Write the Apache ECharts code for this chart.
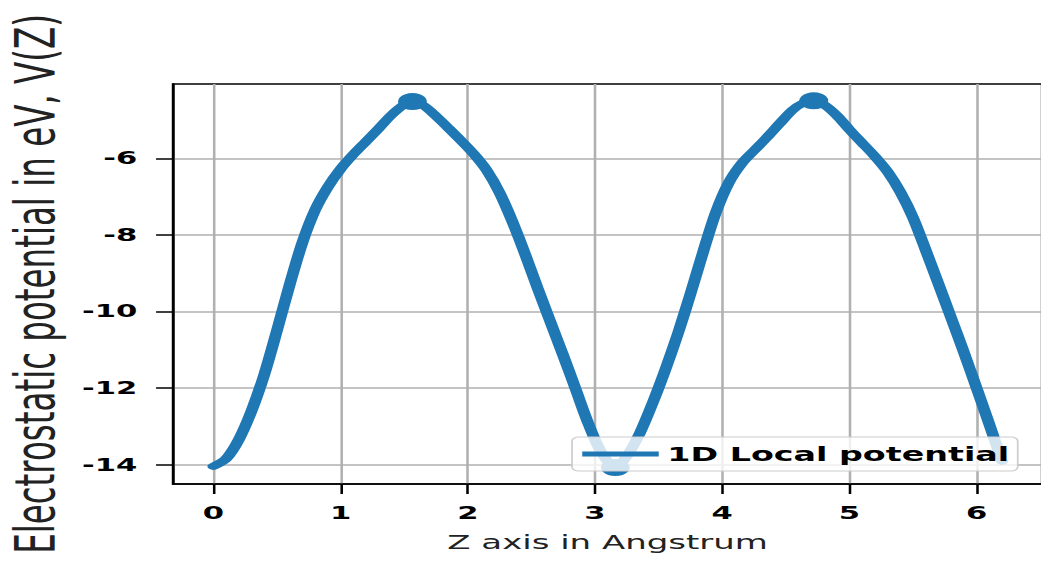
<!DOCTYPE html>
<html>
<head>
<meta charset="utf-8">
<script src="https://cdn.jsdelivr.net/npm/echarts@6/dist/echarts.min.js"></script>
<style>
html, body { margin: 0; padding: 0; background: #ffffff; overflow: hidden; }
#wrap { width: 1041px; height: 562px; overflow: hidden; position: relative; background: #fff; }
#chart { width: 613px; height: 562px; transform: scaleX(1.7); transform-origin: 0 0; }
</style>
</head>
<body>
<div id="wrap"><div id="chart"></div></div>
<script>
// ---- data ----
const zAngstrom = [
  0.00, 0.10, 0.20, 0.30, 0.40, 0.50, 0.60, 0.70, 0.80, 0.90, 1.00, 1.10, 1.20, 1.30, 1.40, 1.50, 1.565,
  1.65, 1.75, 1.85, 1.95, 2.05, 2.15, 2.25, 2.35, 2.45, 2.55, 2.65, 2.75, 2.85, 2.95, 3.05, 3.16,
  3.25, 3.35, 3.45, 3.55, 3.65, 3.75, 3.85, 3.95, 4.05, 4.15, 4.25, 4.35, 4.45, 4.55, 4.63, 4.72,
  4.80, 4.90, 5.00, 5.10, 5.20, 5.30, 5.40, 5.50, 5.60, 5.70, 5.80, 5.90, 6.00, 6.10, 6.20
];
const potential = [
  -14.05, -13.85, -13.35, -12.60, -11.65, -10.50, -9.30, -8.20, -7.35, -6.75, -6.28, -5.90, -5.56, -5.22, -4.87, -4.60, -4.52,
  -4.62, -4.90, -5.22, -5.55, -5.90, -6.32, -6.90, -7.65, -8.50, -9.40, -10.28, -11.15, -12.05, -12.95, -13.68, -14.08,
  -13.78, -13.20, -12.42, -11.55, -10.60, -9.55, -8.45, -7.42, -6.65, -6.15, -5.80, -5.46, -5.10, -4.75, -4.57, -4.50,
  -4.60, -4.88, -5.25, -5.60, -5.95, -6.35, -6.88, -7.55, -8.40, -9.28, -10.17, -11.07, -12.00, -12.95, -13.92
];
const markedZ = [1.565, 3.16, 4.72];
const xTickValues = [0, 1, 2, 3, 4, 5, 6];
const xTickLabels = ['0', '1', '2', '3', '4', '5', '6'];
const yTickValues = [-14, -12, -10, -8, -6];
const yTickLabels = ['-14', '-12', '-10', '-8', '-6'];
const seriesName = '1D Local potential';
const xTitle = 'Z axis in Angstrum';
const yTitle = 'Electrostatic potential in eV, V(Z)';

// ---- chart ----
const FONT = 'DejaVu Sans';
const BLUE = '#1f77b4';
const chart = echarts.init(document.getElementById('chart'), null, { renderer: 'svg' });

const lineData = zAngstrom.map((z, i) => {
  const item = { value: [z, potential[i]] };
  if (markedZ.indexOf(z) < 0) item.symbol = 'none';
  return item;
});

chart.setOption({
  animation: false,
  backgroundColor: '#ffffff',
  grid: {
    left: 101.8, right: 0, top: 84, bottom: 78,
    outerBoundsMode: 'none',
    containLabel: false,
    show: true, borderColor: '#000000', borderWidth: 1.5, backgroundColor: 'transparent'
  },
  legend: {
    show: true,
    left: 336.5, top: 437,
    orient: 'horizontal',
    padding: [7, 5, 7, 6],
    itemWidth: 45, itemHeight: 5,
    icon: 'rect',
    backgroundColor: 'rgba(255,255,255,0.8)',
    borderColor: '#cccccc', borderWidth: 1, borderRadius: 4,
    textStyle: { fontFamily: FONT, fontWeight: 'bold', fontSize: 19.6, color: '#000000' },
    data: [{ name: seriesName, icon: 'rect', itemStyle: { color: BLUE } }]
  },
  xAxis: {
    type: 'value',
    min: -0.317, max: 6.515,
    name: xTitle, nameLocation: 'middle', nameGap: 48,
    nameTextStyle: { fontFamily: FONT, fontSize: 20, color: '#222222' },
    axisLine: { show: true, onZero: false, lineStyle: { color: '#000000', width: 1.5 } },
    axisTick: { show: true, inside: false, length: 10, customValues: xTickValues, lineStyle: { color: '#000000', width: 1.5 } },
    axisLabel: {
      show: true, margin: 20, customValues: xTickValues,
      fontFamily: FONT, fontWeight: 'bold', fontSize: 18, color: '#000000',
      formatter: v => { const i = xTickValues.indexOf(v); return i >= 0 ? xTickLabels[i] : ''; }
    },
    splitLine: { show: true, lineStyle: { color: '#b0b0b0', width: 1.5 } }
  },
  yAxis: {
    type: 'value',
    min: -14.51, max: -4.06,
    name: yTitle, nameLocation: 'middle', nameGap: 62, nameRotate: 90,
    nameTextStyle: { fontFamily: FONT, fontSize: 32.5, color: '#222222' },
    axisLine: { show: true, onZero: false, lineStyle: { color: '#000000', width: 1.5 } },
    axisTick: { show: true, inside: false, length: 10, customValues: yTickValues, lineStyle: { color: '#000000', width: 1.5 } },
    axisLabel: {
      show: true, margin: 21, customValues: yTickValues,
      fontFamily: FONT, fontWeight: 'bold', fontSize: 18, color: '#000000',
      formatter: v => { const i = yTickValues.indexOf(v); return i >= 0 ? yTickLabels[i] : ''; }
    },
    splitLine: { show: true, lineStyle: { color: '#b0b0b0', width: 1.5 } }
  },
  series: [{
    name: seriesName,
    type: 'line',
    data: lineData,
    smooth: 0.3,
    showSymbol: true,
    showAllSymbol: true,
    symbol: 'circle',
    symbolSize: 17,
    itemStyle: { color: BLUE },
    lineStyle: { color: BLUE, width: 7, cap: 'round', join: 'round' },
    emphasis: { disabled: true },
    z: 2
  }]
});
</script>
</body>
</html>
